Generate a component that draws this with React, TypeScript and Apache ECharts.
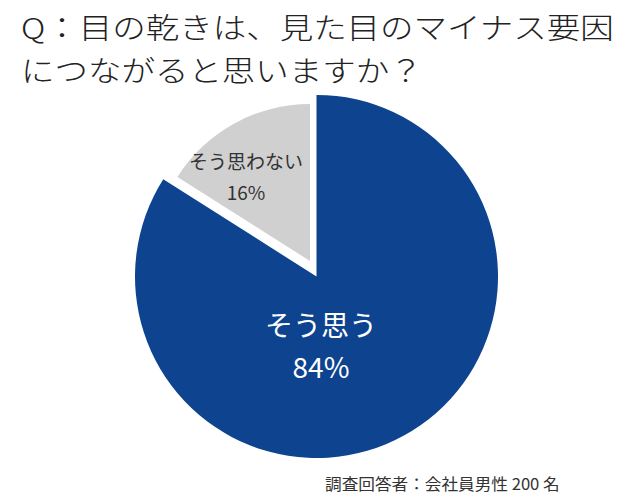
import React, { useEffect, useRef } from "react";
import * as echarts from "echarts";

const titleLines = ["Q：目の乾きは、見た目のマイナス要因", "につながると思いますか？"];
const categories = ["そう思う", "そう思わない"];
const values = [84, 16];
const sliceColors = ["#0d438f", "#d0d0d0"];
const footnote = "調査回答者：会社員男性 200 名";

const FONT = '"Noto Sans CJK JP", "Noto Sans", sans-serif';

export default function App() {
  const ref = useRef<HTMLDivElement>(null);
  useEffect(() => {
    if (!ref.current) return;
    const chart = echarts.init(ref.current, undefined, { renderer: "svg" });
    const makeData = (showIndex: number) =>
      categories.map((name, i) => ({
        name,
        value: values[i],
        itemStyle: { color: i === showIndex ? sliceColors[i] : "rgba(0,0,0,0)" },
        label: { show: i === showIndex },
      }));
    chart.setOption({
      animation: false,
      backgroundColor: "#ffffff",
      textStyle: { fontFamily: FONT },
      graphic: [
        ...titleLines.map((t, i) => ({
          type: "text",
          x: 21,
          y: 27 + i * 43,
          scaleX: 1.155,
          silent: true,
          style: {
            text: t,
            fontSize: 29,
            fontWeight: 300,
            fontFamily: FONT,
            fill: "#222222",
            verticalAlign: "middle",
            align: "left",
          },
        })),
        {
          type: "text",
          x: 325,
          y: 483,
          scaleX: 1.04,
          silent: true,
          style: {
            text: footnote,
            fontSize: 16,
            fontFamily: FONT,
            fill: "#333333",
            verticalAlign: "middle",
            align: "left",
          },
        },
      ],
      series: [
        {
          type: "pie",
          silent: true,
          center: [316.5, 276.5],
          radius: 181.5,
          startAngle: 90,
          clockwise: true,
          data: makeData(0),
          labelLine: { show: false },
          label: {
            position: "inside",
            formatter: "{b}\n{c}%",
            color: "#ffffff",
            fontSize: 28,
            lineHeight: 42,
            fontFamily: FONT,
          },
          labelLayout: () => ({ x: 321, y: 345, align: "center", verticalAlign: "middle" }),
          emphasis: { disabled: true },
        },
        {
          type: "pie",
          silent: true,
          center: [310, 261],
          radius: 157,
          startAngle: 90,
          clockwise: true,
          data: makeData(1),
          labelLine: { show: false },
          label: {
            position: "inside",
            formatter: "{b}\n{c}%",
            color: "#333333",
            fontSize: 19,
            lineHeight: 31,
            fontFamily: FONT,
          },
          labelLayout: () => ({ x: 246, y: 176, align: "center", verticalAlign: "middle" }),
          emphasis: { disabled: true },
        },
      ],
    });
    return () => chart.dispose();
  }, []);
  return (
    <div
      ref={ref}
      style={{ position: "fixed", left: 0, top: 0, width: 640, height: 500, background: "#fff" }}
    />
  );
}
